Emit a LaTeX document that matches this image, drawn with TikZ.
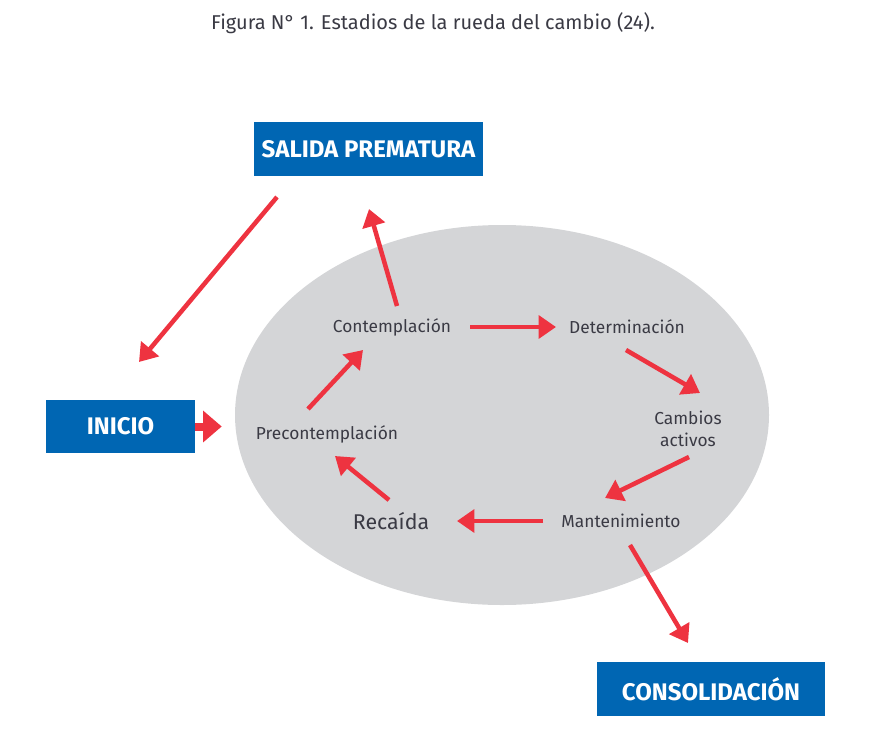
\documentclass[tikz,border=0pt]{standalone}
\usepackage{fontspec}
\setmainfont{Fira Sans}
\usetikzlibrary{arrows.meta,shapes.geometric}

\definecolor{azul}{HTML}{0066B3}
\definecolor{rojo}{HTML}{EE3340}
\definecolor{gris}{HTML}{D4D5D7}
\definecolor{texto}{HTML}{3A3A44}

\tikzset{
  caja/.style={fill=azul,text=white,font=\fontsize{18}{21}\selectfont\bfseries,minimum height=40.5pt,inner sep=0.75pt},
  etapa/.style={text=texto,font=\fontsize{13}{17}\selectfont,inner sep=0.75pt,align=center},
  flecha/.style={draw=rojo,line width=3.4pt,-{Triangle[length=13pt,width=17pt]}},
  flechagruesa/.style={draw=rojo,line width=6pt,-{Triangle[length=14pt,width=23pt]}}
}

\begin{document}
\begin{tikzpicture}[x=0.75pt,y=-0.75pt]
\useasboundingbox (0,0) rectangle (884,742);

% Title
\node[text=texto,font=\fontsize{15}{18}\selectfont,inner sep=0.75pt] (titulo) at (433,23) {Figura N° 1. Estadios de la rueda del cambio (24).};

% Wheel
\node[ellipse,fill=gris,minimum width=400.5pt,minimum height=285pt,inner sep=0pt] (rueda) at (502,415) {};

% Boxes
\node[caja,minimum width=171.75pt] (salida) at (368.5,149) {SALIDA PREMATURA};
\node[caja,minimum width=111.75pt,minimum height=39.75pt] (inicio) at (120.5,426.5) {INICIO};
\node[caja,minimum width=171pt] (consol) at (711,689) {CONSOLIDACIÓN};

% Stages
\node[etapa] (contem) at (392,327) {Contemplación};
\node[etapa] (determ) at (627,327) {Determinación};
\node[etapa] (cambios) at (688,429) {Cambios\\activos};
\node[etapa] (mant) at (621,521) {Mantenimiento};
\node[etapa,font=\fontsize{16}{18}\selectfont] (recaida) at (391,521) {Recaída};
\node[etapa] (precon) at (327,434) {Precontemplación};

% Arrows
\draw[flecha] ([shift={(-91.5,48)}]salida.center) -- ([shift={(18.5,-64.5)}]inicio.center);
\draw[flecha] ([shift={(5,-21)}]contem.center) -- ([shift={(0.5,60)}]salida.center);
\draw[flecha] ([shift={(78,0)}]contem.center) -- ([shift={(-71,0)}]determ.center);
\draw[flecha] ([shift={(-1,23)}]determ.center) -- ([shift={(12,-36)}]cambios.center);
\draw[flecha] ([shift={(1,28)}]cambios.center) -- ([shift={(-16,-23)}]mant.center);
\draw[flecha] ([shift={(-78,0)}]mant.center) -- ([shift={(66,0)}]recaida.center);
\draw[flecha] ([shift={(-2,-21)}]recaida.center) -- ([shift={(8,22)}]precon.center);
\draw[flecha] ([shift={(-19,-25)}]precon.center) -- ([shift={(-29,23)}]contem.center);
\draw[flecha] ([shift={(9,24)}]mant.center) -- ([shift={(-23,-46)}]consol.center);
\draw[flechagruesa,shorten >=9.75pt] (inicio.east) -- (inicio.east -| rueda.west);

\end{tikzpicture}
\end{document}
